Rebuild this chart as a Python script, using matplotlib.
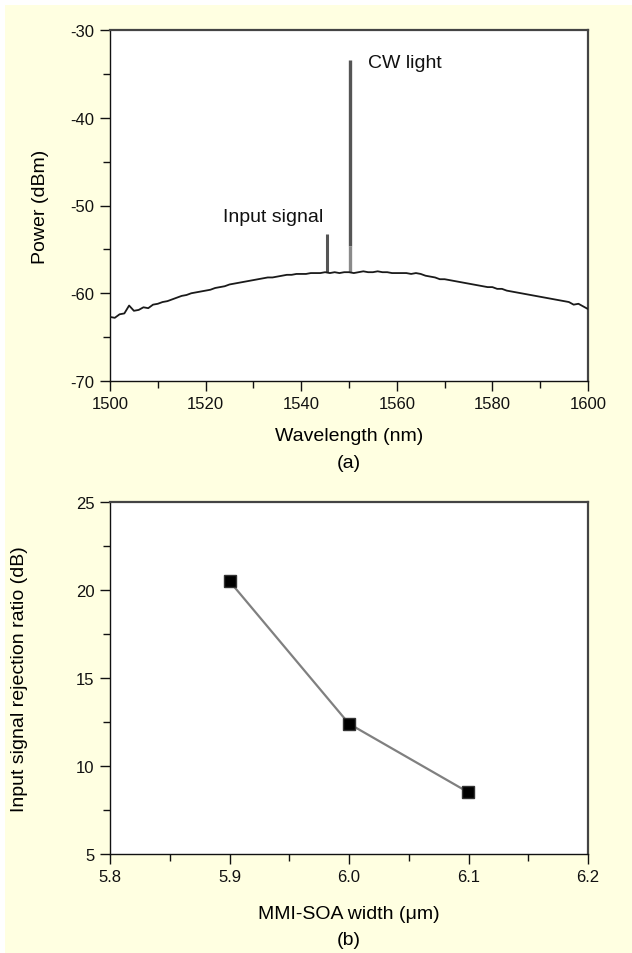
import matplotlib
matplotlib.use("Agg")
import matplotlib.pyplot as plt
from matplotlib.patches import Rectangle
from matplotlib.ticker import MultipleLocator, FormatStrFormatter

plt.rcParams['font.family'] = ['Liberation Sans', 'DejaVu Sans']
plt.rcParams['axes.unicode_minus'] = False

# ---------------- data: panel (a) ----------------
wavelength = list(range(1500, 1601))
power = [-62.7, -62.8, -62.4, -62.3, -61.4, -62.0, -61.9, -61.6, -61.7, -61.3,
         -61.2, -61.0, -60.9, -60.7, -60.5, -60.3, -60.2, -60.0, -59.9, -59.8,
         -59.7, -59.6, -59.4, -59.3, -59.2, -59.0, -58.9, -58.8, -58.7, -58.6,
         -58.5, -58.4, -58.3, -58.2, -58.2, -58.1, -58.0, -57.9, -57.9, -57.8,
         -57.8, -57.8, -57.7, -57.7, -57.7, -57.6, -57.7, -57.6, -57.7, -57.6,
         -57.6, -57.7, -57.6, -57.5, -57.6, -57.6, -57.5, -57.6, -57.6, -57.7,
         -57.7, -57.7, -57.7, -57.8, -57.7, -57.8, -58.0, -58.1, -58.2, -58.4,
         -58.4, -58.5, -58.6, -58.7, -58.8, -58.9, -59.0, -59.1, -59.2, -59.3,
         -59.3, -59.5, -59.5, -59.7, -59.8, -59.9, -60.0, -60.1, -60.2, -60.3,
         -60.4, -60.5, -60.6, -60.7, -60.8, -60.9, -61.0, -61.3, -61.2, -61.5,
         -61.8]
peak_wl = [1545.3, 1550.2]
peak_base = [-57.6, -57.6]
peak_top = [-53.2, -33.4]
cw_lower_top = -54.6
labels_a = ["Input signal", "CW light"]

# ---------------- data: panel (b) ----------------
width_um = [5.9, 6.0, 6.1]
rejection_db = [20.5, 12.4, 8.5]

BG = '#FFFFE1'
LAB = 14
TCK = 12
fig = plt.figure(figsize=(6.32, 9.54), dpi=100, facecolor='white')
fig.patches.append(Rectangle((5/632, 0), 1, 1 - 6/954, transform=fig.transFigure,
                             facecolor=BG, edgecolor='none', zorder=-10))

def style_axes(ax):
    ax.set_facecolor('white')
    for s in ['left', 'bottom']:
        ax.spines[s].set_color('#111111')
        ax.spines[s].set_linewidth(1.0)
    for s in ['top', 'right']:
        ax.spines[s].set_color('#444444')
        ax.spines[s].set_linewidth(1.6)
    ax.tick_params(which='major', direction='out', length=7, width=1.0,
                   labelsize=TCK, colors='#111111', pad=4)
    ax.tick_params(which='minor', direction='out', length=5, width=1.0,
                   colors='#111111')

# ---- panel (a) ----
axa = fig.add_axes([110/632, 1 - 382/954, 478/632, 351/954])
style_axes(axa)
axa.plot(wavelength, power, color='#1a1a1a', lw=1.3, zorder=3)
axa.vlines(peak_wl[0], peak_base[0], peak_top[0], color='#555555', lw=2.2, zorder=2)
axa.vlines(peak_wl[1], cw_lower_top, peak_top[1], color='#555555', lw=2.4, zorder=2)
axa.vlines(peak_wl[1], peak_base[1], cw_lower_top, color='#8a8a8a', lw=2.4, zorder=2)
axa.text(peak_wl[1] + 3.8, peak_top[1] - 0.3, labels_a[1], fontsize=LAB,
         ha='left', va='center', color='#111111')
axa.text(peak_wl[0] - 0.6, -51.3, labels_a[0], fontsize=LAB,
         ha='right', va='center', color='#111111')
axa.set_xlim(1500, 1600)
axa.set_ylim(-70, -30)
axa.xaxis.set_major_locator(MultipleLocator(20))
axa.xaxis.set_minor_locator(MultipleLocator(10))
axa.yaxis.set_major_locator(MultipleLocator(10))
axa.yaxis.set_minor_locator(MultipleLocator(5))
axa.set_xlabel("Wavelength (nm)", fontsize=LAB)
axa.set_ylabel("Power (dBm)", fontsize=LAB)
axa.xaxis.set_label_coords(0.5, -(437 - 382) / 351)
axa.yaxis.set_label_coords(-(110 - 40) / 478, 0.5)
fig.text(349/632, 1 - 463/954, "(a)", fontsize=LAB, ha='center', va='center')

# ---- panel (b) ----
axb = fig.add_axes([110/632, 1 - 855/954, 478/632, 352/954])
style_axes(axb)
axb.plot(width_um, rejection_db, color='#808080', lw=1.6, marker='s', ms=9,
         markerfacecolor='black', markeredgecolor='#333333', markeredgewidth=1.0)
axb.set_xlim(5.8, 6.2)
axb.set_ylim(5, 25)
axb.xaxis.set_major_locator(MultipleLocator(0.1))
axb.xaxis.set_minor_locator(MultipleLocator(0.05))
axb.xaxis.set_major_formatter(FormatStrFormatter('%.1f'))
axb.yaxis.set_major_locator(MultipleLocator(5))
axb.yaxis.set_minor_locator(MultipleLocator(2.5))
axb.set_xlabel("MMI-SOA width (\u03bcm)", fontsize=LAB)
axb.set_ylabel("Input signal rejection ratio (dB)", fontsize=LAB)
axb.xaxis.set_label_coords(0.5, -(915 - 855) / 352)
axb.yaxis.set_label_coords(-(110 - 19) / 478, 0.5)
for lab in (axa.xaxis.label, axb.xaxis.label):
    lab.set_va('center')
for lab in (axa.yaxis.label, axb.yaxis.label):
    lab.set_va('center')
fig.text(349/632, 1 - 941/954, "(b)", fontsize=LAB, ha='center', va='center')

fig.savefig("out.png", dpi=100, facecolor=fig.get_facecolor())
